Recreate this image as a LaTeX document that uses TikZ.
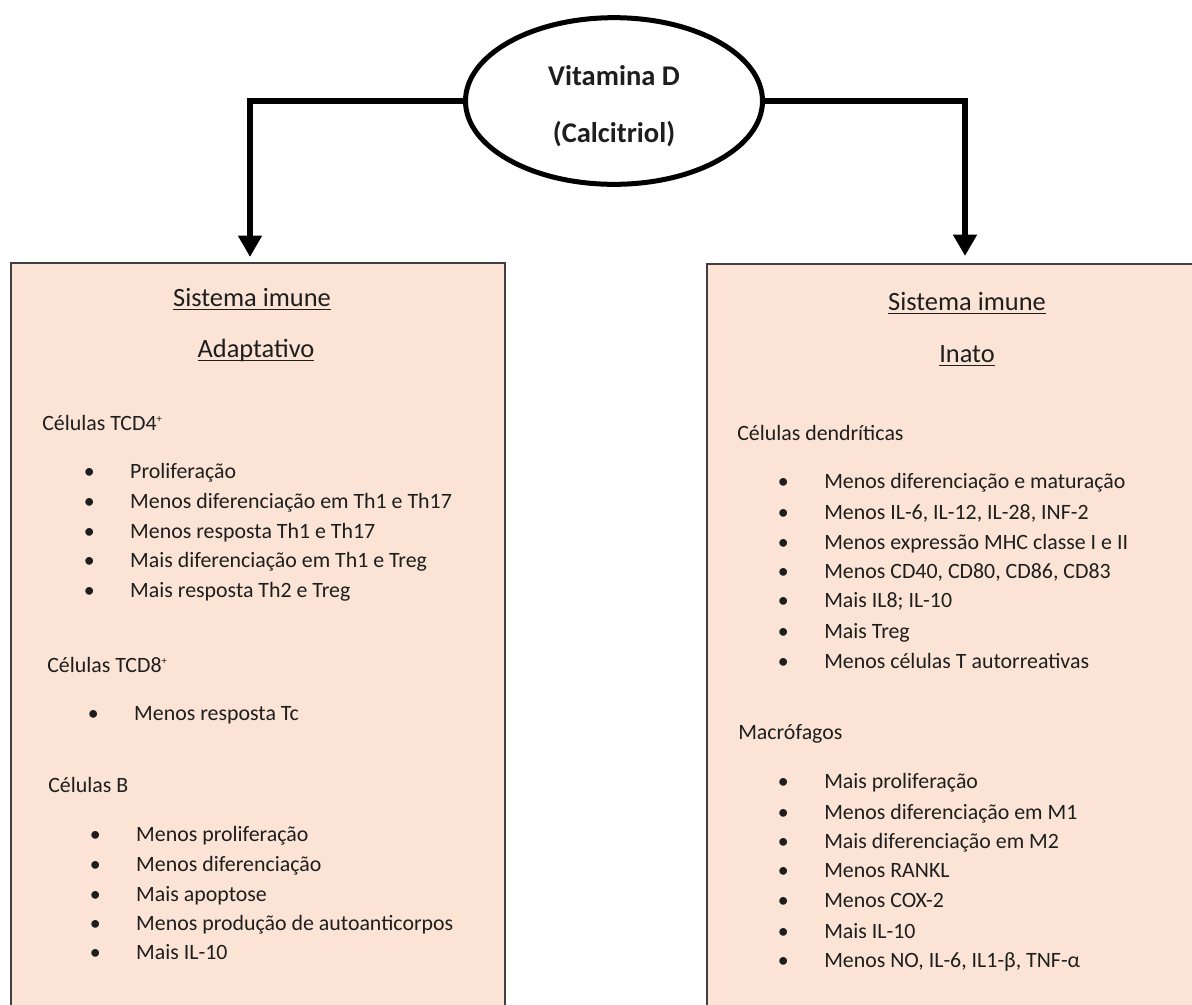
\documentclass[tikz,border=0pt]{standalone}
\usepackage{fontspec}
\setmainfont{Carlito}
\usetikzlibrary{shapes.geometric, arrows.meta}

\definecolor{pele}{HTML}{FBE4D5}
\definecolor{tinta}{HTML}{1E1E1E}
\newcommand{\ponto}{\llap{\makebox[0pt]{\textbullet}\hspace{30.75pt}}}
\newcommand{\sublinha}[1]{\setbox0=\hbox{#1}\rlap{\rule[-3.3pt]{\wd0}{1.1pt}}\box0}
\newcommand{\mais}{\raisebox{6pt}{\fontsize{8}{8}\selectfont+}}

\begin{document}
\begin{tikzpicture}[x=0.75pt, y=-0.75pt,
  vitbox/.style={ellipse, draw, line width=3.75pt, minimum width=222.75pt, minimum height=125pt, fill=white},
  ramo/.style={line width=4.5pt, -{Triangle[width=17pt, length=16pt]}},
  painel/.style={draw=black!75, line width=1.5pt, fill=pele},
  titulo/.style={font=\fontsize{21.4}{24}\selectfont\bfseries, text=tinta},
  cabeca/.style={anchor=base, font=\fontsize{19.8}{22}\selectfont, text=tinta},
  grupo/.style={anchor=base west, font=\fontsize{16.4}{19}\selectfont, text=tinta, inner sep=0pt},
  itemlista/.style={anchor=base west, font=\fontsize{16.4}{19}\selectfont, text=tinta, inner sep=0pt}]
\clip (0,0) rectangle (1192,1004);
\fill[white] (0,0) rectangle (1192,1004);

%the two boxes
\draw[painel] (11,263) rectangle (505,1030);
\draw[painel] (707,264) rectangle (1220,1030);
\coordinate (adaptTop) at (250,257);
\coordinate (inatoTop) at (965,256);

%the vitamin
\node[vitbox] (vit) at (614,101) {};
\node[titulo] (vitA) at (614,76) {Vitamina D};
\node[titulo] (vitB) at (614,134) {(Calcitriol)};
\draw[ramo] (vit.west) -| (adaptTop);
\draw[ramo] (vit.east) -| (inatoTop);

%adaptive side
\node[cabeca] (adH1) at (252,306) {\sublinha{Sistema imune}};
\node[cabeca] (adH2) at (256,357) {\sublinha{Adaptativo}};

\node[grupo] (cd4) at (42,430) {Células TCD4\mais};
\node[itemlista] (cd4a) at (130,478) {\ponto Proliferação};
\node[itemlista] (cd4b) at (130,508) {\ponto Menos diferenciação em Th1 e Th17};
\node[itemlista] (cd4c) at (130,538) {\ponto Menos resposta Th1 e Th17};
\node[itemlista] (cd4d) at (130,567) {\ponto Mais diferenciação em Th1 e Treg};
\node[itemlista] (cd4e) at (130,597) {\ponto Mais resposta Th2 e Treg};

\node[grupo] (cd8) at (47,672) {Células TCD8\mais};
\node[itemlista] (cd8a) at (134,720) {\ponto Menos resposta Tc};

\node[grupo] (celB) at (48,792) {Células B};
\node[itemlista] (celBa) at (136,841) {\ponto Menos proliferação};
\node[itemlista] (celBb) at (136,871) {\ponto Menos diferenciação};
\node[itemlista] (celBc) at (136,901) {\ponto Mais apoptose};
\node[itemlista] (celBd) at (136,930) {\ponto Menos produção de autoanticorpos};
\node[itemlista] (celBe) at (136,959) {\ponto Mais IL-10};

%innate side
\node[cabeca] (inH1) at (967,310) {\sublinha{Sistema imune}};
\node[cabeca] (inH2) at (967,362) {\sublinha{Inato}};

\node[grupo] (dend) at (737,440) {Células dendríticas};
\node[itemlista] (denda) at (824,488) {\ponto Menos diferenciação e maturação};
\node[itemlista] (dendb) at (824,519) {\ponto Menos IL-6, IL-12, IL-28, INF-2};
\node[itemlista] (dendc) at (824,549) {\ponto Menos expressão MHC classe I e II};
\node[itemlista] (dendd) at (824,578) {\ponto Menos CD40, CD80, CD86, CD83};
\node[itemlista] (dende) at (824,607) {\ponto Mais IL8; IL-10};
\node[itemlista] (dendf) at (824,638) {\ponto Mais Treg};
\node[itemlista] (dendg) at (824,668) {\ponto Menos células T autorreativas};

\node[grupo] (macro) at (738,739) {Macrófagos};
\node[itemlista] (macroa) at (824,788) {\ponto Mais proliferação};
\node[itemlista] (macrob) at (824,819) {\ponto Menos diferenciação em M1};
\node[itemlista] (macroc) at (824,848) {\ponto Mais diferenciação em M2};
\node[itemlista] (macrod) at (824,877) {\ponto Menos RANKL};
\node[itemlista] (macroe) at (824,907) {\ponto Menos COX-2};
\node[itemlista] (macrof) at (824,938) {\ponto Mais IL-10};
\node[itemlista] (macrog) at (824,967) {\ponto Menos NO, IL-6, IL1-β, TNF-α};
\end{tikzpicture}
\end{document}
